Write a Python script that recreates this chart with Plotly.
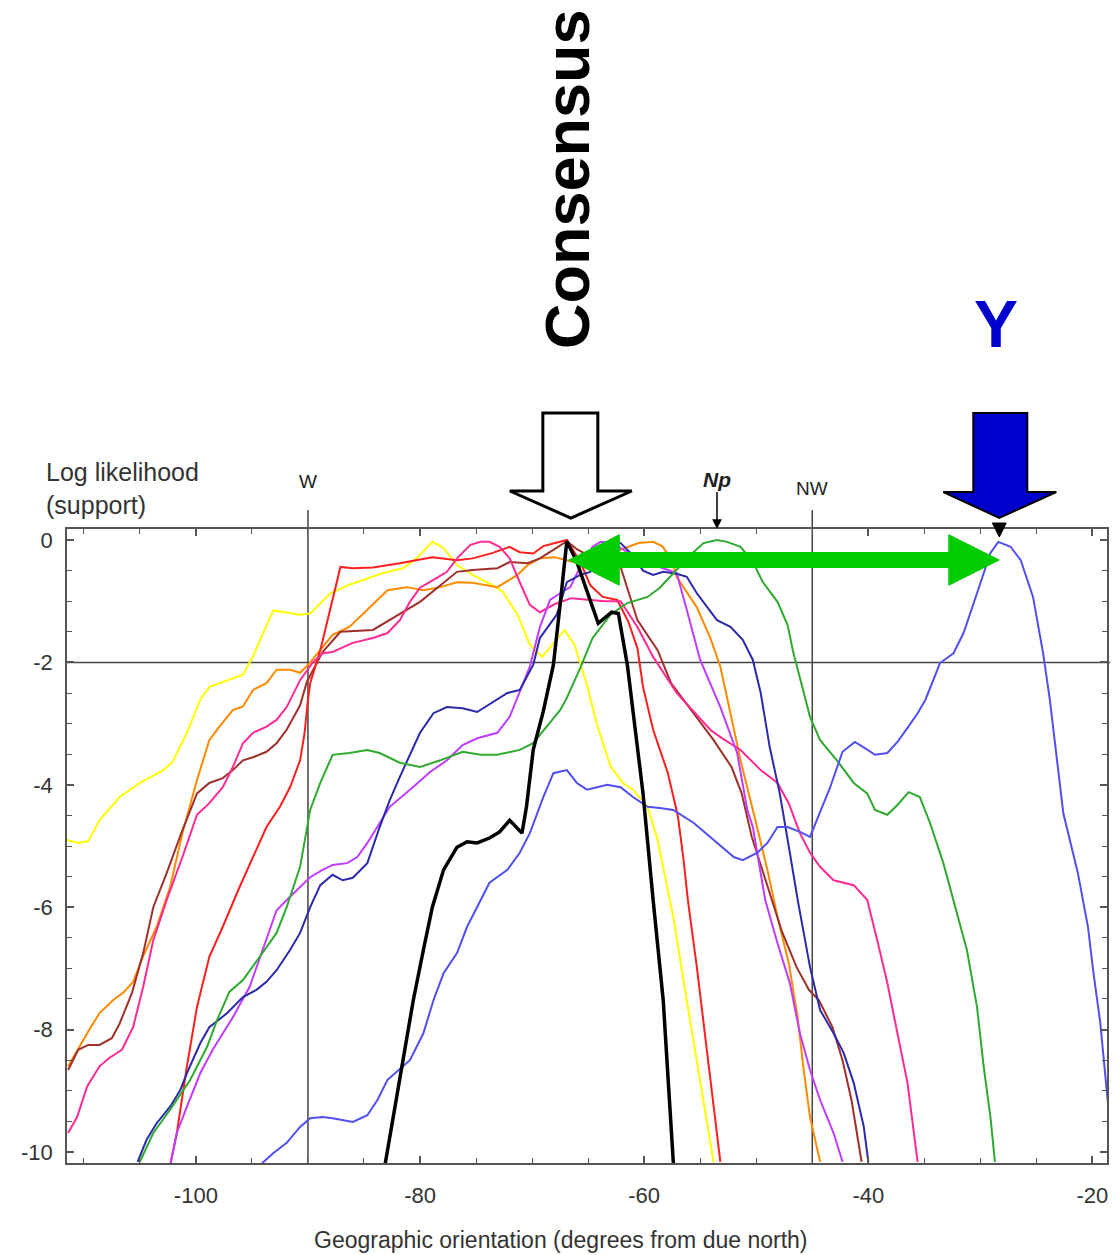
import plotly.graph_objects as go

# ---------------- data ----------------
yellow_x = [-111.5,-110.5,-109.6,-108.6,-106.8,-105.0,-102.9,-102.1,-100.8,-99.6,-98.8,-95.8,-94.9,-93.1,-90.7,-89.8,-88.0,-86.3,-83.3,-81.5,-80.3,-78.9,-77.9,-76.7,-75.3,-73.5,-72.6,-71.3,-70.2,-69.1,-67.1,-66.2,-65.1,-64.2,-63.0,-61.9,-61.0,-59.7,-58.8,-57.4,-56.2,-55.0,-53.8]
yellow_y = [-4.90,-4.95,-4.92,-4.58,-4.20,-3.97,-3.76,-3.63,-3.15,-2.60,-2.40,-2.20,-1.90,-1.15,-1.22,-1.20,-0.87,-0.73,-0.54,-0.46,-0.30,-0.03,-0.13,-0.41,-0.57,-0.74,-0.85,-1.22,-1.71,-1.91,-1.47,-1.72,-2.37,-3.02,-3.70,-3.97,-4.08,-4.36,-4.90,-6.16,-7.52,-8.87,-10.17]

orange_x = [-111.4,-110.4,-109.5,-108.6,-107.4,-106.5,-105.6,-104.7,-103.5,-102.3,-101.2,-99.9,-98.8,-97.9,-96.7,-95.8,-94.9,-93.7,-92.8,-91.6,-90.7,-89.8,-88.9,-87.8,-86.3,-84.7,-82.9,-81.2,-79.7,-78.2,-76.7,-75.3,-73.1,-71.3,-70.4,-69.3,-68.0,-66.5,-65.0,-63.5,-62.0,-60.5,-59.2,-58.4,-57.6,-57.1,-55.3,-54.1,-53.2,-52.3,-51.4,-50.3,-49.0,-48.1,-47.1,-46.3,-45.8,-45.2,-44.3]
orange_y = [-8.60,-8.28,-8.00,-7.73,-7.52,-7.40,-7.22,-6.80,-6.32,-5.67,-4.79,-3.92,-3.27,-3.05,-2.78,-2.72,-2.45,-2.34,-2.12,-2.12,-2.17,-2.00,-1.80,-1.55,-1.42,-1.14,-0.82,-0.77,-0.82,-0.77,-0.69,-0.70,-0.77,-0.57,-0.41,-0.30,-0.28,-0.35,-0.40,-0.30,-0.15,-0.05,-0.03,-0.10,-0.30,-0.60,-1.10,-1.60,-2.07,-2.83,-3.60,-4.41,-5.39,-6.16,-6.91,-7.80,-8.61,-9.43,-10.16]

brown_x = [-111.4,-110.5,-109.6,-108.6,-107.5,-106.8,-105.7,-104.7,-103.8,-102.6,-101.3,-99.9,-98.8,-97.6,-96.7,-95.8,-94.9,-93.7,-92.8,-91.9,-90.7,-90.1,-88.7,-87.1,-84.2,-82.4,-80.0,-76.7,-75.3,-73.1,-72.0,-70.4,-69.3,-68.0,-66.9,-66.0,-65.0,-64.0,-63.0,-62.1,-60.6,-58.8,-57.6,-55.8,-53.8,-52.2,-51.3,-50.4,-48.9,-47.7,-46.4,-45.3,-44.4,-43.2,-42.3,-41.5,-40.6]
brown_y = [-8.66,-8.33,-8.25,-8.25,-8.14,-7.90,-7.40,-6.75,-6.00,-5.44,-4.79,-4.14,-3.97,-3.89,-3.76,-3.60,-3.55,-3.46,-3.32,-3.10,-2.70,-2.32,-1.83,-1.50,-1.47,-1.27,-1.01,-0.52,-0.49,-0.46,-0.36,-0.38,-0.30,-0.15,-0.02,-0.15,-0.25,-0.30,-0.35,-0.44,-1.31,-1.80,-2.34,-2.78,-3.27,-3.71,-4.14,-4.85,-5.70,-6.40,-6.98,-7.35,-7.52,-7.96,-8.50,-9.15,-10.16]

red_x = [-102.5,-101.7,-100.8,-99.9,-98.8,-97.6,-96.1,-94.6,-93.7,-92.5,-91.6,-90.7,-90.3,-90.0,-89.8,-88.9,-88.0,-87.1,-86.0,-84.2,-81.8,-78.9,-76.7,-75.3,-73.5,-72.0,-71.1,-69.9,-69.0,-67.8,-66.9,-65.7,-64.8,-63.7,-62.4,-61.4,-60.6,-60.1,-59.2,-57.9,-57.0,-56.5,-56.1,-55.3,-54.4,-53.2]
red_y = [-10.40,-9.69,-8.60,-7.63,-6.81,-6.32,-5.67,-5.07,-4.69,-4.36,-4.04,-3.60,-3.15,-2.61,-2.34,-1.80,-1.14,-0.44,-0.46,-0.45,-0.38,-0.28,-0.33,-0.30,-0.21,-0.11,-0.20,-0.22,-0.10,-0.05,0.00,-0.36,-0.74,-0.93,-0.98,-1.34,-1.77,-2.40,-3.10,-3.80,-4.50,-5.20,-5.88,-6.98,-8.33,-10.16]

pink_x = [-111.4,-110.6,-109.7,-108.6,-107.7,-106.6,-105.6,-104.7,-103.8,-102.6,-101.2,-99.9,-98.8,-97.6,-96.7,-95.8,-94.9,-93.7,-92.8,-91.9,-90.7,-89.6,-88.7,-87.8,-86.0,-84.2,-82.9,-81.8,-80.9,-80.0,-78.8,-77.6,-76.7,-75.5,-74.6,-73.8,-72.9,-72.0,-71.1,-70.2,-69.3,-68.0,-66.5,-65.0,-63.5,-62.1,-60.6,-59.2,-57.1,-54.1,-53.2,-51.4,-49.6,-48.1,-47.1,-46.1,-45.2,-44.3,-43.1,-41.3,-40.1,-39.2,-38.3,-37.4,-36.5,-35.6]
pink_y = [-9.69,-9.43,-8.93,-8.60,-8.46,-8.33,-7.96,-7.30,-6.54,-5.88,-5.18,-4.49,-4.30,-4.04,-3.71,-3.32,-3.15,-3.05,-2.94,-2.73,-2.29,-2.01,-1.85,-1.83,-1.68,-1.60,-1.52,-1.31,-1.01,-0.78,-0.65,-0.52,-0.30,-0.08,-0.03,-0.03,-0.11,-0.30,-0.69,-1.06,-1.18,-1.05,-0.95,-0.98,-1.00,-1.00,-1.42,-1.91,-2.50,-3.10,-3.22,-3.43,-3.76,-3.97,-4.30,-4.79,-5.11,-5.34,-5.56,-5.64,-5.88,-6.54,-7.24,-8.06,-8.87,-10.16]

violet_x = [-102.5,-101.7,-100.8,-99.6,-98.5,-96.7,-95.2,-93.7,-92.8,-91.6,-90.7,-89.8,-88.7,-87.8,-86.5,-85.6,-84.7,-83.6,-82.7,-80.9,-79.1,-77.6,-76.2,-74.9,-73.1,-72.0,-71.1,-70.2,-69.3,-68.4,-67.5,-66.6,-65.7,-64.6,-63.9,-62.8,-61.5,-60.0,-58.5,-57.1,-56.2,-55.0,-53.2,-51.7,-50.8,-50.3,-49.2,-48.1,-47.0,-46.1,-45.2,-44.3,-43.1,-42.3]
violet_y = [-10.40,-9.69,-9.26,-8.71,-8.33,-7.80,-7.30,-6.54,-6.05,-5.83,-5.67,-5.51,-5.39,-5.31,-5.28,-5.18,-4.95,-4.62,-4.36,-4.08,-3.79,-3.60,-3.35,-3.24,-3.15,-2.89,-2.48,-2.07,-1.42,-0.98,-0.87,-0.77,-0.44,-0.11,-0.03,-0.05,-0.20,-0.35,-0.45,-0.54,-1.14,-1.96,-2.73,-3.48,-4.41,-4.69,-5.88,-6.59,-7.24,-8.06,-8.66,-9.15,-9.69,-10.16]

navy_x = [-105.2,-104.4,-103.5,-102.3,-101.4,-100.8,-99.6,-98.8,-97.2,-95.8,-94.6,-93.7,-92.8,-91.6,-90.7,-89.8,-88.9,-87.8,-86.9,-86.0,-84.7,-83.6,-82.7,-81.8,-80.0,-78.8,-77.6,-76.2,-74.9,-73.5,-72.2,-71.1,-69.9,-69.3,-67.8,-66.9,-65.7,-64.8,-63.9,-63.0,-62.1,-61.0,-60.1,-59.2,-58.3,-57.1,-56.2,-55.3,-54.4,-53.5,-52.3,-51.2,-50.3,-49.6,-48.8,-47.9,-47.0,-46.3,-45.2,-44.3,-43.1,-42.2,-41.3,-40.4,-40.0]
navy_y = [-10.16,-9.80,-9.53,-9.26,-8.99,-8.71,-8.22,-7.96,-7.73,-7.47,-7.35,-7.22,-7.03,-6.70,-6.42,-6.00,-5.64,-5.47,-5.56,-5.52,-5.28,-4.69,-4.25,-3.87,-3.15,-2.83,-2.73,-2.75,-2.81,-2.65,-2.50,-2.45,-2.04,-1.60,-1.22,-0.69,-0.57,-0.52,-0.25,-0.02,-0.05,-0.25,-0.50,-0.57,-0.52,-0.55,-0.60,-0.87,-1.10,-1.31,-1.42,-1.63,-1.96,-2.50,-3.38,-4.14,-5.11,-5.88,-6.98,-7.68,-8.06,-8.38,-8.87,-9.59,-10.16]

green_x = [-105.0,-103.8,-102.3,-100.5,-99.0,-98.1,-97.0,-95.8,-94.3,-92.8,-91.9,-90.7,-89.8,-88.9,-87.8,-86.3,-84.7,-83.6,-81.8,-80.0,-78.2,-76.2,-74.6,-73.1,-71.1,-69.9,-68.7,-67.5,-66.9,-65.7,-64.6,-63.0,-61.5,-59.7,-58.6,-57.4,-55.9,-54.7,-53.5,-52.6,-51.4,-50.3,-49.4,-48.1,-47.2,-46.7,-46.1,-45.2,-44.3,-42.8,-41.3,-40.1,-39.4,-38.3,-37.4,-36.4,-35.4,-34.5,-33.3,-32.4,-31.2,-30.3,-29.7,-29.1,-28.7]
green_y = [-10.16,-9.69,-9.31,-8.82,-8.28,-7.84,-7.38,-7.19,-6.81,-6.42,-6.00,-5.34,-4.41,-3.97,-3.51,-3.48,-3.43,-3.48,-3.64,-3.71,-3.60,-3.46,-3.51,-3.51,-3.43,-3.32,-3.05,-2.78,-2.58,-2.09,-1.60,-1.22,-1.03,-0.93,-0.78,-0.54,-0.25,-0.05,0.00,-0.03,-0.11,-0.36,-0.69,-1.01,-1.39,-1.83,-2.25,-2.89,-3.27,-3.60,-3.97,-4.14,-4.41,-4.49,-4.33,-4.12,-4.20,-4.62,-5.28,-5.88,-6.70,-7.63,-8.61,-9.43,-10.16]

blue_x = [-94.8,-93.1,-91.9,-90.7,-89.8,-88.7,-87.8,-86.0,-84.7,-83.8,-82.9,-81.8,-80.9,-79.7,-78.8,-77.9,-76.7,-75.8,-74.6,-73.8,-72.2,-71.1,-70.2,-69.0,-68.1,-66.9,-66.0,-65.1,-63.3,-62.1,-61.0,-59.7,-58.6,-57.4,-55.6,-53.8,-52.0,-51.2,-49.9,-49.0,-48.1,-47.2,-46.1,-45.2,-44.3,-43.4,-42.3,-41.2,-40.3,-39.4,-38.3,-37.4,-36.5,-35.6,-34.9,-33.6,-32.4,-31.5,-30.3,-29.7,-29.1,-28.4,-27.3,-26.4,-25.3,-24.4,-23.8,-22.6,-21.3,-20.4,-19.9,-19.3,-18.7,-18.2]
blue_y = [-10.30,-10.02,-9.85,-9.59,-9.45,-9.43,-9.45,-9.51,-9.40,-9.15,-8.82,-8.65,-8.50,-8.06,-7.52,-7.08,-6.75,-6.32,-5.88,-5.60,-5.39,-5.11,-4.79,-4.20,-3.81,-3.76,-3.97,-4.08,-4.00,-4.04,-4.20,-4.36,-4.38,-4.41,-4.62,-4.90,-5.18,-5.23,-5.11,-4.95,-4.69,-4.69,-4.77,-4.85,-4.46,-4.04,-3.46,-3.30,-3.40,-3.51,-3.48,-3.30,-3.07,-2.83,-2.61,-2.01,-1.85,-1.52,-0.87,-0.54,-0.21,-0.03,-0.11,-0.33,-0.93,-1.85,-2.61,-4.46,-5.44,-6.32,-7.08,-7.89,-9.04,-10.00]

consensus_x = [-83.3,-82.1,-80.6,-79.7,-78.9,-77.9,-76.7,-75.8,-74.9,-73.8,-72.9,-72.0,-70.9,-70.5,-69.9,-69.0,-68.1,-67.5,-66.9,-66.0,-65.1,-64.1,-62.9,-62.3,-61.5,-61.0,-60.1,-59.2,-58.3,-57.4,-57.2]
consensus_y = [-10.40,-9.15,-7.52,-6.70,-6.00,-5.39,-5.02,-4.93,-4.95,-4.87,-4.77,-4.58,-4.79,-4.36,-3.43,-2.80,-2.04,-1.06,-0.02,-0.36,-0.85,-1.36,-1.18,-1.20,-2.04,-2.80,-4.14,-5.88,-7.52,-10.16,-10.50]

x_tick_vals = [-100, -80, -60, -40, -20]
x_tick_text = ["-100", "-80", "-60", "-40", "-20"]
y_tick_vals = [0, -2, -4, -6, -8, -10]
y_tick_text = ["0", "-2", "-4", "-6", "-8", "-10"]

compass_x = [-90, -45]
compass_text = ["W", "NW"]

# ---------------- figure geometry ----------------
W, H = 1120, 1255
L, R, T, B = 67, 13, 529, 92
PW, PH = W - L - R, H - T - B
XR = [-111.5, -18.7]
YR = [-10.18, 0.18]
FONT = "Liberation Sans, Arial, Helvetica, sans-serif"


def xpx(v):
    return L + (v - XR[0]) / (XR[1] - XR[0]) * PW


def ppx(px):
    return (px - L) / PW


def ppy(py):
    return (T + PH - py) / PH


def path(points):
    s = "M " + " L ".join(f"{ppx(a):.5f},{ppy(b):.5f}" for a, b in points) + " Z"
    return s


series = [
    (yellow_x, yellow_y, "#FFFF00", 2),
    (orange_x, orange_y, "#FF8A00", 2),
    (brown_x, brown_y, "#A0302A", 2),
    (red_x, red_y, "#FF1E1E", 2),
    (pink_x, pink_y, "#FF2A92", 2),
    (violet_x, violet_y, "#C03CFF", 2),
    (navy_x, navy_y, "#2A2AAA", 2),
    (green_x, green_y, "#2EAA2E", 2),
    (blue_x, blue_y, "#4F4FF2", 2),
    (consensus_x, consensus_y, "#000000", 3.5),
]

fig = go.Figure()
for xs, ys, col, w in series:
    fig.add_trace(go.Scatter(x=xs, y=ys, mode="lines",
                             line=dict(color=col, width=w),
                             hoverinfo="skip", showlegend=False))

# peak positions derived from the data
cons_peak = consensus_x[consensus_y.index(max(consensus_y))]
y_peak = blue_x[blue_y.index(max(blue_y))]
np_peak = green_x[green_y.index(max(green_y))]
cpx = xpx(cons_peak)
ypx = xpx(y_peak)

shapes = []
# reference lines
for cx in compass_x:
    shapes.append(dict(type="line", xref="x", yref="paper", x0=cx, x1=cx,
                       y0=0, y1=ppy(510), line=dict(color="#444", width=1.5), layer="below"))
shapes.append(dict(type="line", xref="paper", yref="y", x0=0, x1=1.003, y0=-2, y1=-2,
                   line=dict(color="#444", width=1.5), layer="below"))

# open consensus arrow
tip = cpx + 4
shapes.append(dict(type="path", xref="paper", yref="paper",
                   path=path([(tip - 28, 413), (tip + 27, 413), (tip + 27, 491), (tip + 61, 491),
                              (tip, 518), (tip - 61, 491), (tip - 28, 491)]),
                   fillcolor="white", line=dict(color="black", width=3)))
# blue Y arrow
tip2 = ypx + 1
shapes.append(dict(type="path", xref="paper", yref="paper",
                   path=path([(tip2 - 26, 413), (tip2 + 28, 413), (tip2 + 28, 492), (tip2 + 57, 492),
                              (tip2, 518), (tip2 - 56, 492), (tip2 - 26, 492)]),
                   fillcolor="#0000CC", line=dict(color="black", width=2)))
# small black marker under Y arrow
shapes.append(dict(type="path", xref="paper", yref="paper",
                   path=path([(tip2 - 7, 523), (tip2 + 7, 523), (tip2, 537)]),
                   fillcolor="black", line=dict(color="black", width=1)))
# green double arrow
lx, rx, cy = cpx + 1, ypx + 2, 560
shapes.append(dict(type="path", xref="paper", yref="paper",
                   path=path([(lx, cy), (lx + 52, cy - 26), (lx + 52, cy - 8), (rx - 52, cy - 8),
                              (rx - 52, cy - 26), (rx, cy), (rx - 52, cy + 26), (rx - 52, cy + 8),
                              (lx + 52, cy + 8), (lx + 52, cy + 26)]),
                   fillcolor="#00CC00", line=dict(width=0)))

annotations = [
    dict(text="<b>Consensus</b>", textangle=-90, xref="paper", yref="paper",
         x=ppx(567), y=ppy(179), xanchor="center", yanchor="middle", showarrow=False,
         font=dict(family=FONT, size=63, color="black")),
    dict(text="<b>Y</b>", xref="paper", yref="paper", x=ppx(996), y=ppy(324),
         xanchor="center", yanchor="middle", showarrow=False,
         font=dict(family=FONT, size=66, color="#0000CC")),
    dict(text="Log likelihood<br>(support)", xref="paper", yref="paper", x=ppx(44), y=ppy(488),
         xanchor="left", yanchor="middle", align="left", showarrow=False,
         font=dict(family=FONT, size=25, color="#333")),
    dict(text="Geographic orientation (degrees from due north)", xref="paper", yref="paper",
         x=ppx(561), y=ppy(1240), xanchor="center", yanchor="middle", showarrow=False,
         font=dict(family=FONT, size=23, color="#333")),
    dict(text="<b><i>Np</i></b>", xref="x", yref="paper", x=np_peak, y=1.0,
         showarrow=True, ax=0, ay=-50, arrowhead=2, arrowsize=1.3, arrowwidth=1.5,
         arrowcolor="black", font=dict(family=FONT, size=21, color="#222")),
]
for cx, lab, py in zip(compass_x, compass_text, [481, 488]):
    annotations.append(dict(text=lab, xref="x", yref="paper", x=cx, y=ppy(py),
                            xanchor="center", yanchor="middle", showarrow=False,
                            font=dict(family=FONT, size=19, color="#222")))

axis_common = dict(showgrid=False, zeroline=False, showline=True, linecolor="#555",
                   linewidth=1.5, mirror="ticks", ticks="inside", ticklen=7,
                   tickwidth=1.5, tickcolor="#555",
                   tickfont=dict(family=FONT, size=22, color="#333"))

fig.update_layout(
    width=W, height=H,
    margin=dict(l=L, r=R, t=T, b=B, pad=0),
    paper_bgcolor="white", plot_bgcolor="white",
    shapes=shapes, annotations=annotations,
    xaxis=dict(range=XR, tickmode="array", tickvals=x_tick_vals, ticktext=x_tick_text,
               ticklabelstandoff=12,
               minor=dict(tickmode="linear", tick0=0, dtick=5, ticks="inside", ticklen=5,
                          tickwidth=1.2, tickcolor="#555"),
               **axis_common),
    yaxis=dict(range=YR, tickmode="array", tickvals=y_tick_vals, ticktext=y_tick_text,
               ticklabelstandoff=8,
               minor=dict(tickmode="linear", tick0=0, dtick=0.5, ticks="inside", ticklen=5,
                          tickwidth=1.2, tickcolor="#555"),
               **axis_common),
)

fig.write_html("out.html", config={"displayModeBar": False},
               post_script="document.body.style.margin='0';")
